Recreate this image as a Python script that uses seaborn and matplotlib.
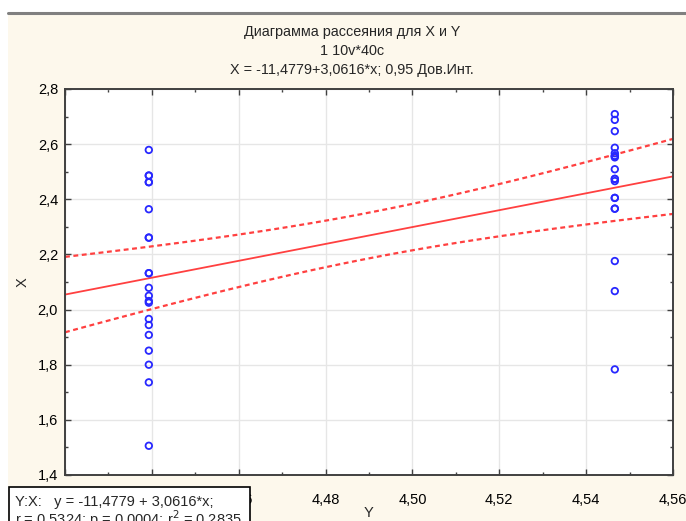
import numpy as np
import pandas as pd
import seaborn as sns
import matplotlib.pyplot as plt
from matplotlib.patches import Rectangle
from matplotlib.ticker import MultipleLocator, FuncFormatter

sns.set_style("whitegrid")
plt.rcParams['font.family'] = ['Liberation Sans', 'DejaVu Sans']

# values (many points overlap)
x_left = 4.4393
x_right = 4.5466
y_left = [2.579, 2.486, 2.486, 2.462, 2.462, 2.364, 2.261, 2.261, 2.132, 2.132,
          2.079, 2.050, 2.031, 2.025, 1.966, 1.944, 1.908, 1.851, 1.800, 1.736, 1.506]
y_right = [2.709, 2.688, 2.647, 2.587, 2.567, 2.557, 2.557, 2.552, 2.509, 2.474,
           2.474, 2.466, 2.405, 2.405, 2.366, 2.366, 2.176, 2.067, 1.783]

intercept = -11.4779
slope = 3.0616
t_crit = 2.024  # 0.95, df = 38

title_lines = ["Диаграмма рассеяния для X и Y", "1 10v*40c",
               "X = -11,4779+3,0616*x; 0,95 Дов.Инт."]
stats_lines = ["Y:X:   y = -11,4779 + 3,0616*x;",
               "r = 0,5324; p = 0,0004; r$^2$ = 0,2835"]

df = pd.DataFrame({
    "Y": [x_left] * len(y_left) + [x_right] * len(y_right),
    "X": y_left + y_right,
})

# fitted line and 0.95 confidence limits
n = len(df)
resid = df["X"] - (intercept + slope * df["Y"])
s = np.sqrt((resid ** 2).sum() / (n - 2))
xbar = df["Y"].mean()
sxx = ((df["Y"] - xbar) ** 2).sum()
xs = np.linspace(4.42, 4.56, 60)
fit = intercept + slope * xs
half = t_crit * s * np.sqrt(1 / n + (xs - xbar) ** 2 / sxx)
lines = pd.DataFrame({"Y": xs, "fit": fit, "lo": fit - half, "hi": fit + half})

fig = plt.figure(figsize=(6.86, 5.21), dpi=100)
fig.patch.set_facecolor("white")
# cream panel under the window border
fig.patches.append(Rectangle((8 / 686, 0), 1, 1 - 14 / 521, transform=fig.transFigure,
                             facecolor="#fdf8ec", edgecolor="none", zorder=-10))
fig.add_artist(plt.Line2D([8 / 686, 1], [1 - 13 / 521] * 2, transform=fig.transFigure,
                          color="#808080", lw=2.2))

ax = fig.add_axes([65 / 686, 1 - 475 / 521, 608 / 686, 386 / 521])
ax.set_facecolor("white")

red = "#ff4040"
sns.lineplot(data=lines, x="Y", y="fit", color=red, lw=1.3, ax=ax)
sns.lineplot(data=lines, x="Y", y="lo", color=red, lw=1.6, ax=ax, dashes=False)
sns.lineplot(data=lines, x="Y", y="hi", color=red, lw=1.6, ax=ax, dashes=False)
for ln in ax.get_lines()[1:]:
    ln.set_linestyle((0, (2.2, 1.6)))

sns.scatterplot(data=df, x="Y", y="X", ax=ax, marker="o", s=22,
                facecolor="none", edgecolor="#2828ff", linewidth=1.3, zorder=5)

ax.set_xlim(4.42, 4.56)
ax.set_ylim(1.4, 2.8)
ax.xaxis.set_major_locator(MultipleLocator(0.02))
ax.xaxis.set_minor_locator(MultipleLocator(0.01))
ax.yaxis.set_major_locator(MultipleLocator(0.2))
ax.yaxis.set_minor_locator(MultipleLocator(0.1))
ax.xaxis.set_major_formatter(FuncFormatter(lambda v, p: f"{v:.2f}".replace(".", ",")))
ax.yaxis.set_major_formatter(FuncFormatter(lambda v, p: f"{v:.1f}".replace(".", ",")))
ax.tick_params(which="both", direction="in", top=True, right=True, bottom=True, left=True,
               colors="#404040", labelcolor="black", labelsize=10.5, width=1)
ax.tick_params(which="major", length=4, pad=5)
ax.tick_params(axis="x", which="major", pad=13)
ax.tick_params(which="minor", length=2.5)
ax.grid(True, which="major", color="#e6e6e6", lw=1)
for sp in ax.spines.values():
    sp.set_color("#404040")
    sp.set_linewidth(1.4)

ax.set_xlabel("Y", fontsize=10.5, labelpad=-1)
ax.set_ylabel("X", fontsize=10.5, labelpad=6)

for i, t in enumerate(title_lines):
    fig.text(352 / 686, 1 - (32 + 19 * i) / 521, t, ha="center", va="center", fontsize=10.4)

# statistics box in the lower left corner
fig.patches.append(Rectangle((9 / 686, -0.05), 241 / 686, 0.05 + 1 - 487 / 521,
                             transform=fig.transFigure, facecolor="white",
                             edgecolor="black", lw=1.2, zorder=5))
fig.text(15 / 686, 1 - 502 / 521, stats_lines[0], ha="left", va="center", fontsize=10.5, zorder=6)
fig.text(15 / 686, 1 - 519 / 521, stats_lines[1], ha="left", va="center", fontsize=10.5, zorder=6)

fig.savefig("out.png", dpi=100)
